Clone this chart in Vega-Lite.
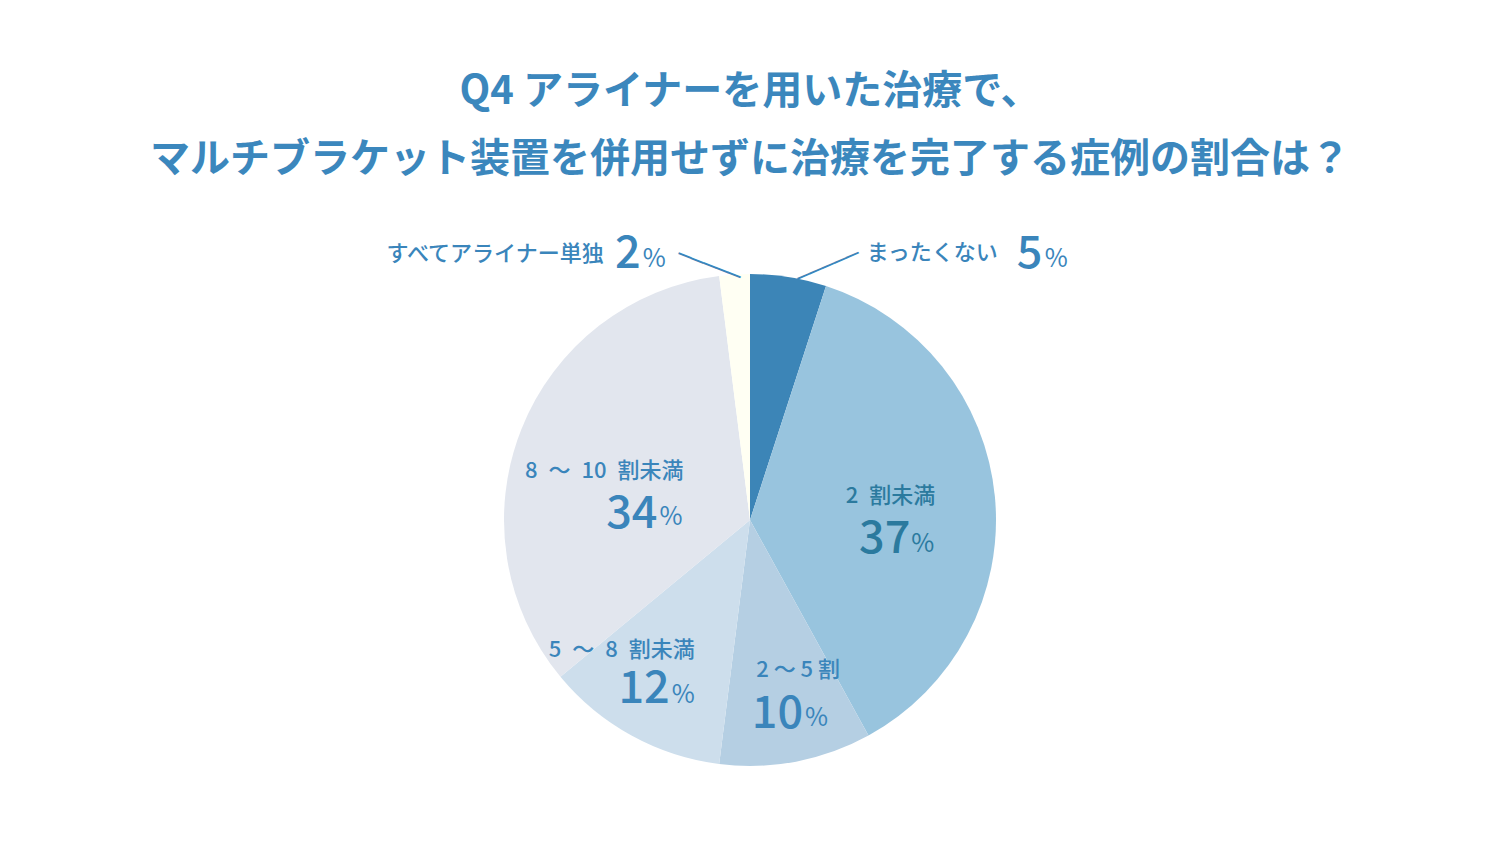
{
  "$schema": "https://vega.github.io/schema/vega-lite/v6.json",
  "width": 1500,
  "height": 600,
  "autosize": {"type": "none"},
  "padding": {"top": 220, "left": 0, "right": 0, "bottom": 34},
  "background": "#ffffff",
  "title": {
    "text": ["Q4 アライナーを用いた治療で、", "マルチブラケット装置を併用せずに治療を完了する症例の割合は？"],
    "font": "Noto Sans CJK JP",
    "fontSize": 40,
    "fontWeight": "bold",
    "color": "#3b87bd",
    "lineHeight": 68,
    "anchor": "middle",
    "frame": "group",
    "offset": 40
  },
  "data": {
    "values": [
      {"k": "a", "name": "まったくない", "num": "5", "value": 5, "order": 1},
      {"k": "b", "name": "2\u2002割未満", "num": "37", "value": 37, "order": 2},
      {"k": "c", "name": "2 〜 5 割", "num": "10", "value": 10, "order": 3},
      {"k": "d", "name": "5\u2002〜\u20028\u2002割未満", "num": "12", "value": 12, "order": 4},
      {"k": "e", "name": "8\u2002〜\u200210\u2002割未満", "num": "34", "value": 34, "order": 5},
      {"k": "f", "name": "すべてアライナー単独", "num": "2", "value": 2, "order": 6}
    ]
  },
  "encoding": {
    "theta": {"field": "value", "type": "quantitative", "stack": true},
    "order": {"field": "order", "type": "quantitative"}
  },
  "layer": [
    {
      "mark": {"type": "arc", "outerRadius": 246},
      "encoding": {
        "color": {
          "field": "k", "type": "nominal",
          "scale": {"domain": ["a", "b", "c", "d", "e", "f"], "range": ["#3c85b7", "#98c4de", "#b5cfe3", "#cddeec", "#e2e6ee", "#fffff3"]},
          "legend": null
        }
      }
    },
    {"mark": {"type": "text", "radius": 150, "align": "right", "baseline": "alphabetic", "dx": 36, "dy": -3, "font": "Noto Sans CJK JP", "fontSize": 22, "fontWeight": 500, "color": "#2b7a9e"},
     "encoding": {"text": {"condition": {"test": "datum.k == 'b'", "field": "name"}, "value": ""}}},
    {"mark": {"type": "text", "radius": 150, "align": "right", "baseline": "alphabetic", "dx": 11, "dy": 47, "font": "Noto Sans CJK JP", "fontSize": 45, "fontWeight": 500, "color": "#2b7a9e"},
     "encoding": {"text": {"condition": {"test": "datum.k == 'b'", "field": "num"}, "value": ""}}},
    {"mark": {"type": "text", "radius": 150, "align": "right", "baseline": "alphabetic", "dx": 35, "dy": 46, "font": "Noto Sans CJK JP", "fontSize": 25, "fontWeight": 400, "color": "#2b7a9e"},
     "encoding": {"text": {"condition": {"test": "datum.k == 'b'", "value": "%"}, "value": ""}}},

    {"mark": {"type": "text", "radius": 150, "align": "right", "baseline": "alphabetic", "dx": 73, "dy": 13, "font": "Noto Sans CJK JP", "fontSize": 22, "fontWeight": 500, "color": "#3a85bb"},
     "encoding": {"text": {"condition": {"test": "datum.k == 'e'", "field": "name"}, "value": ""}}},
    {"mark": {"type": "text", "radius": 150, "align": "right", "baseline": "alphabetic", "dx": 47, "dy": 63, "font": "Noto Sans CJK JP", "fontSize": 45, "fontWeight": 500, "color": "#3a85bb"},
     "encoding": {"text": {"condition": {"test": "datum.k == 'e'", "field": "num"}, "value": ""}}},
    {"mark": {"type": "text", "radius": 150, "align": "right", "baseline": "alphabetic", "dx": 72, "dy": 60, "font": "Noto Sans CJK JP", "fontSize": 25, "fontWeight": 400, "color": "#3a85bb"},
     "encoding": {"text": {"condition": {"test": "datum.k == 'e'", "value": "%"}, "value": ""}}},

    {"mark": {"type": "text", "radius": 150, "align": "right", "baseline": "alphabetic", "dx": 17, "dy": 6, "font": "Noto Sans CJK JP", "fontSize": 22, "fontWeight": 500, "color": "#3a85bb"},
     "encoding": {"text": {"condition": {"test": "datum.k == 'd'", "field": "name"}, "value": ""}}},
    {"mark": {"type": "text", "radius": 150, "align": "right", "baseline": "alphabetic", "dx": -8, "dy": 52, "font": "Noto Sans CJK JP", "fontSize": 45, "fontWeight": 500, "color": "#3a85bb"},
     "encoding": {"text": {"condition": {"test": "datum.k == 'd'", "field": "num"}, "value": ""}}},
    {"mark": {"type": "text", "radius": 150, "align": "right", "baseline": "alphabetic", "dx": 17, "dy": 52, "font": "Noto Sans CJK JP", "fontSize": 25, "fontWeight": 400, "color": "#3a85bb"},
     "encoding": {"text": {"condition": {"test": "datum.k == 'd'", "value": "%"}, "value": ""}}},

    {"mark": {"type": "text", "radius": 150, "align": "right", "baseline": "alphabetic", "dx": 62, "dy": 10, "font": "Noto Sans CJK JP", "fontSize": 22, "fontWeight": 500, "color": "#3a85bb"},
     "encoding": {"text": {"condition": {"test": "datum.k == 'c'", "field": "name"}, "value": ""}}},
    {"mark": {"type": "text", "radius": 150, "align": "right", "baseline": "alphabetic", "dx": 25, "dy": 61, "font": "Noto Sans CJK JP", "fontSize": 45, "fontWeight": 500, "color": "#3a85bb"},
     "encoding": {"text": {"condition": {"test": "datum.k == 'c'", "field": "num"}, "value": ""}}},
    {"mark": {"type": "text", "radius": 150, "align": "right", "baseline": "alphabetic", "dx": 50, "dy": 59, "font": "Noto Sans CJK JP", "fontSize": 25, "fontWeight": 400, "color": "#3a85bb"},
     "encoding": {"text": {"condition": {"test": "datum.k == 'c'", "value": "%"}, "value": ""}}},

    {"mark": {"type": "text", "radius": 260, "align": "left", "baseline": "alphabetic", "dx": 76, "dy": -3, "font": "Noto Sans CJK JP", "fontSize": 22, "fontWeight": 500, "color": "#3a85bb"},
     "encoding": {"text": {"condition": {"test": "datum.k == 'a'", "field": "name"}, "value": ""}}},
    {"mark": {"type": "text", "radius": 260, "align": "left", "baseline": "alphabetic", "dx": 226, "dy": 5, "font": "Noto Sans CJK JP", "fontSize": 45, "fontWeight": 500, "color": "#3a85bb"},
     "encoding": {"text": {"condition": {"test": "datum.k == 'a'", "field": "num"}, "value": ""}}},
    {"mark": {"type": "text", "radius": 260, "align": "left", "baseline": "alphabetic", "dx": 254, "dy": 4, "font": "Noto Sans CJK JP", "fontSize": 25, "fontWeight": 400, "color": "#3a85bb"},
     "encoding": {"text": {"condition": {"test": "datum.k == 'a'", "value": "%"}, "value": ""}}},

    {"mark": {"type": "text", "radius": 260, "align": "right", "baseline": "alphabetic", "dx": -130, "dy": 0, "font": "Noto Sans CJK JP", "fontSize": 22, "fontWeight": 500, "color": "#3a85bb"},
     "encoding": {"text": {"condition": {"test": "datum.k == 'f'", "field": "name"}, "value": ""}}},
    {"mark": {"type": "text", "radius": 260, "align": "right", "baseline": "alphabetic", "dx": -93, "dy": 7, "font": "Noto Sans CJK JP", "fontSize": 45, "fontWeight": 500, "color": "#3a85bb"},
     "encoding": {"text": {"condition": {"test": "datum.k == 'f'", "field": "num"}, "value": ""}}},
    {"mark": {"type": "text", "radius": 260, "align": "right", "baseline": "alphabetic", "dx": -68, "dy": 6, "font": "Noto Sans CJK JP", "fontSize": 25, "fontWeight": 400, "color": "#3a85bb"},
     "encoding": {"text": {"condition": {"test": "datum.k == 'f'", "value": "%"}, "value": ""}}},

    {"mark": {"type": "text", "radius": 257, "align": "center", "baseline": "middle", "angle": 21.2, "dx": -22, "dy": 11, "font": "DejaVu Sans Mono", "fontSize": 22, "color": "#3a85bb"},
     "encoding": {"text": {"condition": {"test": "datum.k == 'f'", "value": "─────"}, "value": ""}}},
    {"mark": {"type": "text", "radius": 257, "align": "center", "baseline": "middle", "angle": 336.8, "dx": 35, "dy": 15, "font": "DejaVu Sans Mono", "fontSize": 22, "color": "#3a85bb"},
     "encoding": {"text": {"condition": {"test": "datum.k == 'a'", "value": "─────"}, "value": ""}}}
  ],
  "config": {"view": {"stroke": null}}
}
